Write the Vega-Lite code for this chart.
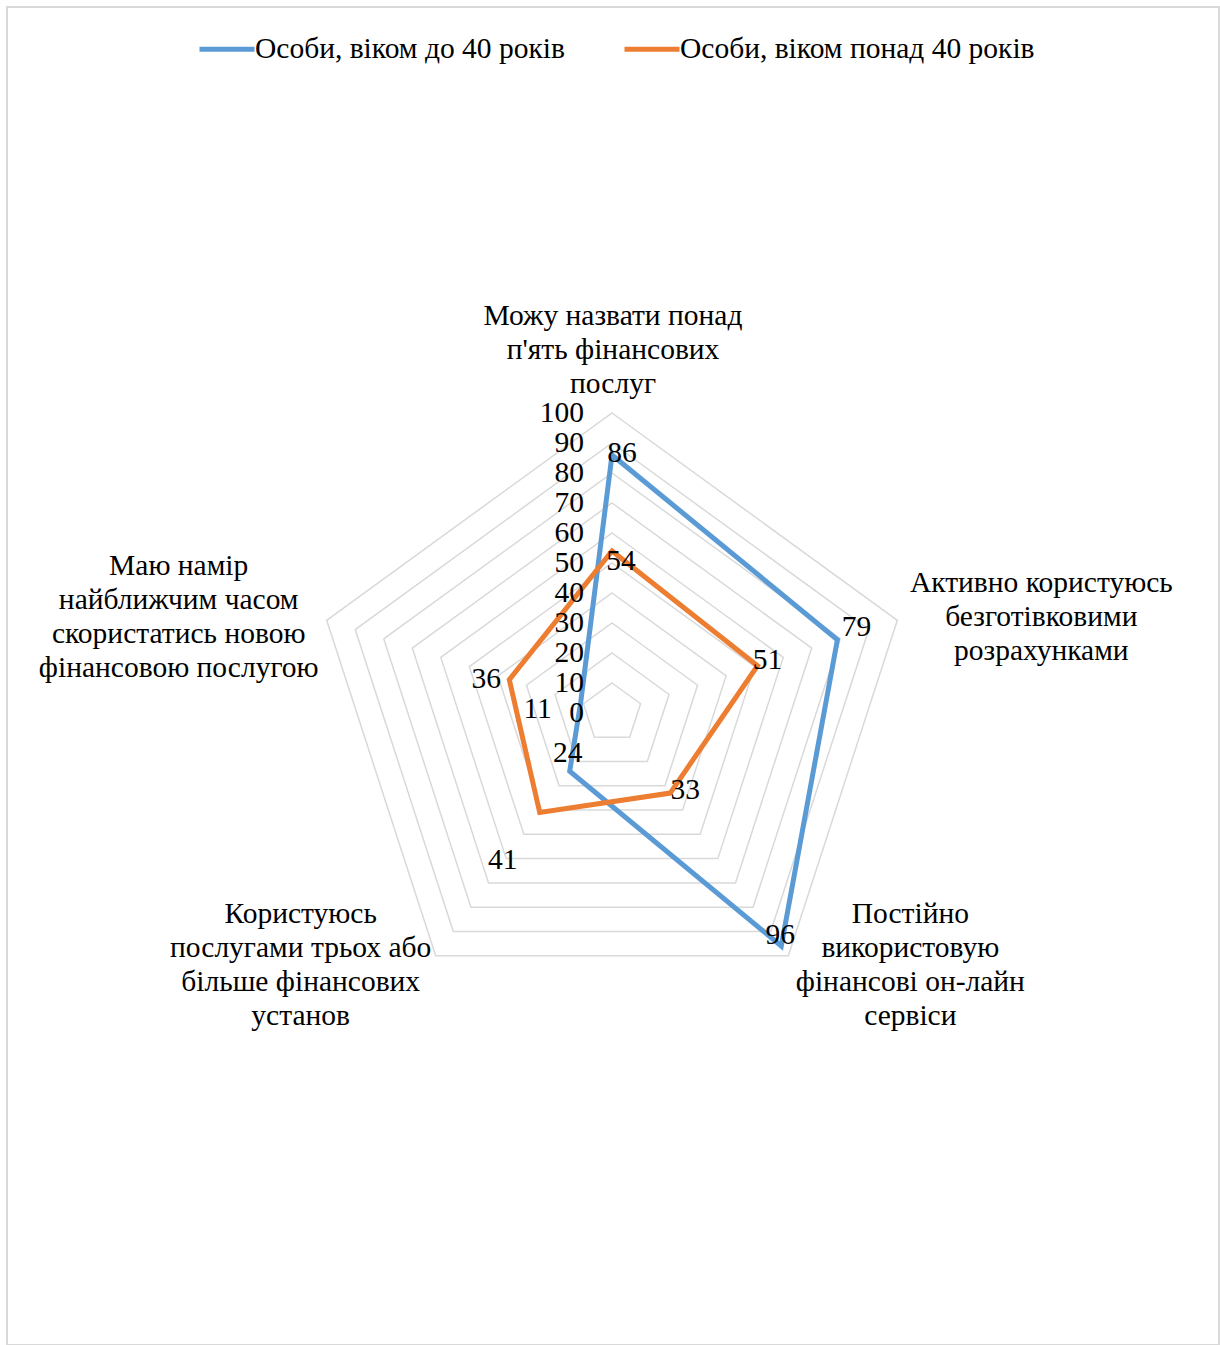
{
  "$schema": "https://vega.github.io/schema/vega-lite/v6.json",
  "width": 1220,
  "height": 1345,
  "autosize": {"type": "fit", "contains": "padding"},
  "padding": {"left": 7, "top": 7, "right": 1, "bottom": 0},
  "background": "white",
  "config": {
    "view": {"stroke": "#d9d9d9", "strokeWidth": 2},
    "font": "Liberation Serif",
    "text": {"font": "Liberation Serif", "fontSize": 29.5, "color": "#000000"}
  },
  "datasets": {
    "series": [
      {"series": "Особи, віком до 40 років", "k": 0, "value": 86},
      {"series": "Особи, віком до 40 років", "k": 1, "value": 79},
      {"series": "Особи, віком до 40 років", "k": 2, "value": 96},
      {"series": "Особи, віком до 40 років", "k": 3, "value": 24},
      {"series": "Особи, віком до 40 років", "k": 4, "value": 11},
      {"series": "Особи, віком понад 40 років", "k": 0, "value": 54},
      {"series": "Особи, віком понад 40 років", "k": 1, "value": 51},
      {"series": "Особи, віком понад 40 років", "k": 2, "value": 33},
      {"series": "Особи, віком понад 40 років", "k": 3, "value": 41},
      {"series": "Особи, віком понад 40 років", "k": 4, "value": 36}
    ],
    "categories": [
      {"k": 0, "label": "Можу назвати понад\nп'ять фінансових\nпослуг"},
      {"k": 1, "label": "Активно користуюсь\nбезготівковими\nрозрахунками"},
      {"k": 2, "label": "Постійно\nвикористовую\nфінансові он-лайн\nсервіси"},
      {"k": 3, "label": "Користуюсь\nпослугами трьох або\nбільше фінансових\nустанов"},
      {"k": 4, "label": "Маю намір\nнайближчим часом\nскористатись новою\nфінансовою послугою"}
    ],
    "grid": [
      {"level": 10, "k": [0, 1, 2, 3, 4]},
      {"level": 20, "k": [0, 1, 2, 3, 4]},
      {"level": 30, "k": [0, 1, 2, 3, 4]},
      {"level": 40, "k": [0, 1, 2, 3, 4]},
      {"level": 50, "k": [0, 1, 2, 3, 4]},
      {"level": 60, "k": [0, 1, 2, 3, 4]},
      {"level": 70, "k": [0, 1, 2, 3, 4]},
      {"level": 80, "k": [0, 1, 2, 3, 4]},
      {"level": 90, "k": [0, 1, 2, 3, 4]},
      {"level": 100, "k": [0, 1, 2, 3, 4]}
    ],
    "ticks": [
      {"v": 0}, {"v": 10}, {"v": 20}, {"v": 30}, {"v": 40}, {"v": 50},
      {"v": 60}, {"v": 70}, {"v": 80}, {"v": 90}, {"v": 100}
    ]
  },
  "layer": [
    {
      "data": {"name": "grid"},
      "transform": [
        {"flatten": ["k"]},
        {"calculate": "datum.level * sin(datum.k * 2 * PI / 5)", "as": "px"},
        {"calculate": "datum.level * cos(datum.k * 2 * PI / 5)", "as": "py"}
      ],
      "mark": {"type": "line", "interpolate": "linear-closed", "stroke": "#d9d9d9", "strokeWidth": 1.5},
      "encoding": {
        "x": {"field": "px", "type": "quantitative", "scale": {"domain": [-201.67, 202.33], "nice": false, "zero": false}, "axis": null},
        "y": {"field": "py", "type": "quantitative", "scale": {"domain": [-210.67, 235.33], "nice": false, "zero": false}, "axis": null},
        "detail": {"field": "level", "type": "nominal"},
        "order": {"field": "k", "type": "quantitative"}
      }
    },
    {
      "data": {"name": "series"},
      "transform": [
        {"calculate": "datum.value * sin(datum.k * 2 * PI / 5)", "as": "px"},
        {"calculate": "datum.value * cos(datum.k * 2 * PI / 5)", "as": "py"}
      ],
      "mark": {"type": "line", "interpolate": "linear-closed", "strokeWidth": 5},
      "encoding": {
        "x": {"field": "px", "type": "quantitative", "scale": {"domain": [-201.67, 202.33], "nice": false, "zero": false}, "axis": null},
        "y": {"field": "py", "type": "quantitative", "scale": {"domain": [-210.67, 235.33], "nice": false, "zero": false}, "axis": null},
        "order": {"field": "k", "type": "quantitative"},
        "color": {
          "field": "series",
          "type": "nominal",
          "scale": {"domain": ["Особи, віком до 40 років", "Особи, віком понад 40 років"], "range": ["#5B9BD5", "#ED7D31"]},
          "legend": {
            "title": null,
            "orient": "none",
            "legendX": 190,
            "legendY": 12,
            "direction": "horizontal",
            "symbolType": "stroke",
            "symbolSize": 3025,
            "symbolStrokeWidth": 5,
            "labelFont": "Liberation Serif",
            "labelFontSize": 29.5,
            "labelColor": "#000000",
            "labelOffset": -2,
            "labelLimit": 0,
            "columnPadding": 49
          }
        }
      }
    },
    {
      "data": {"name": "ticks"},
      "mark": {"type": "text", "align": "right", "baseline": "middle", "dx": -28},
      "encoding": {
        "x": {"datum": 0, "type": "quantitative"},
        "y": {"field": "v", "type": "quantitative"},
        "text": {"field": "v", "type": "quantitative"}
      }
    },
    {
      "data": {"name": "categories"},
      "transform": [
        {"calculate": "100 * sin(datum.k * 2 * PI / 5)", "as": "px"},
        {"calculate": "100 * cos(datum.k * 2 * PI / 5)", "as": "py"}
      ],
      "encoding": {
        "x": {"field": "px", "type": "quantitative"},
        "y": {"field": "py", "type": "quantitative"},
        "text": {"field": "label", "type": "nominal"}
      },
      "layer": [
        {"transform": [{"filter": "datum.k == 0"}], "mark": {"type": "text", "align": "center", "baseline": "middle", "lineBreak": "\n", "lineHeight": 34, "dx": 1, "dy": -97}},
        {"transform": [{"filter": "datum.k == 1"}], "mark": {"type": "text", "align": "center", "baseline": "middle", "lineBreak": "\n", "lineHeight": 34, "dx": 144, "dy": -37}},
        {"transform": [{"filter": "datum.k == 2"}], "mark": {"type": "text", "align": "center", "baseline": "middle", "lineBreak": "\n", "lineHeight": 34, "dx": 122, "dy": -42}},
        {"transform": [{"filter": "datum.k == 3"}], "mark": {"type": "text", "align": "center", "baseline": "middle", "lineBreak": "\n", "lineHeight": 34, "dx": -135, "dy": -42}},
        {"transform": [{"filter": "datum.k == 4"}], "mark": {"type": "text", "align": "center", "baseline": "middle", "lineBreak": "\n", "lineHeight": 34, "dx": -148, "dy": -54}}
      ]
    },
    {
      "data": {"name": "series"},
      "transform": [
        {"calculate": "datum.value * sin(datum.k * 2 * PI / 5)", "as": "px"},
        {"calculate": "datum.value * cos(datum.k * 2 * PI / 5)", "as": "py"}
      ],
      "encoding": {
        "x": {"field": "px", "type": "quantitative"},
        "y": {"field": "py", "type": "quantitative"},
        "text": {"field": "value", "type": "quantitative"}
      },
      "layer": [
        {"transform": [{"filter": "datum.k == 0 && datum.series == 'Особи, віком до 40 років'"}], "mark": {"type": "text", "align": "center", "baseline": "middle", "dx": 10, "dy": -2}},
        {"transform": [{"filter": "datum.k == 1 && datum.series == 'Особи, віком до 40 років'"}], "mark": {"type": "text", "align": "center", "baseline": "middle", "dx": 19, "dy": -13}},
        {"transform": [{"filter": "datum.k == 2 && datum.series == 'Особи, віком до 40 років'"}], "mark": {"type": "text", "align": "center", "baseline": "middle", "dx": -1, "dy": -11}},
        {"transform": [{"filter": "datum.k == 3 && datum.series == 'Особи, віком до 40 років'"}], "mark": {"type": "text", "align": "center", "baseline": "middle", "dx": -2, "dy": -18}},
        {"transform": [{"filter": "datum.k == 4 && datum.series == 'Особи, віком до 40 років'"}], "mark": {"type": "text", "align": "center", "baseline": "middle", "dx": -43, "dy": 6}},
        {"transform": [{"filter": "datum.k == 0 && datum.series == 'Особи, віком понад 40 років'"}], "mark": {"type": "text", "align": "center", "baseline": "middle", "dx": 9, "dy": 10}},
        {"transform": [{"filter": "datum.k == 1 && datum.series == 'Особи, віком понад 40 років'"}], "mark": {"type": "text", "align": "center", "baseline": "middle", "dx": 10, "dy": -6}},
        {"transform": [{"filter": "datum.k == 2 && datum.series == 'Особи, віком понад 40 років'"}], "mark": {"type": "text", "align": "center", "baseline": "middle", "dx": 15, "dy": -3}},
        {"transform": [{"filter": "datum.k == 3 && datum.series == 'Особи, віком понад 40 років'"}], "mark": {"type": "text", "align": "center", "baseline": "middle", "dx": -37, "dy": 48}},
        {"transform": [{"filter": "datum.k == 4 && datum.series == 'Особи, віком понад 40 років'"}], "mark": {"type": "text", "align": "center", "baseline": "middle", "dx": -23, "dy": -1}}
      ]
    }
  ]
}
